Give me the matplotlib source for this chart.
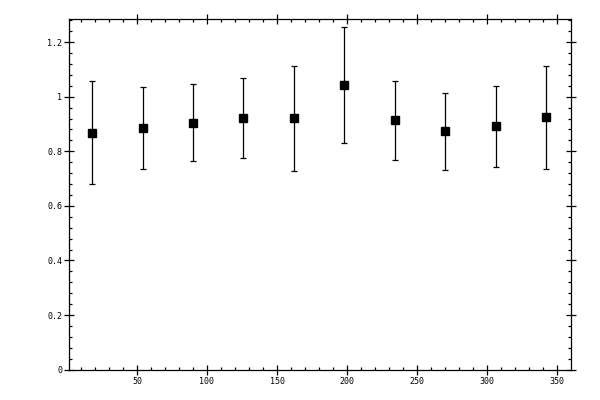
import matplotlib
matplotlib.use("Agg")
import matplotlib.pyplot as plt
from matplotlib.ticker import MultipleLocator

# данни от графиката
angle = [18, 54, 90, 126, 162, 198, 234, 270, 306, 342]
mean_val = [0.867, 0.885, 0.903, 0.922, 0.922, 1.043, 0.914, 0.874, 0.892, 0.925]
err_low = [0.186, 0.150, 0.139, 0.147, 0.195, 0.213, 0.146, 0.143, 0.150, 0.190]
err_high = [0.191, 0.150, 0.143, 0.146, 0.192, 0.212, 0.142, 0.138, 0.149, 0.189]

fig = plt.figure(figsize=(6, 4), dpi=100)
ax = fig.add_axes([0.1155, 0.0758, 0.8355, 0.8762])

ax.errorbar(angle, mean_val, yerr=[err_low, err_high], fmt='s', color='black',
            markersize=5.2, elinewidth=0.9, capsize=2.2, capthick=0.9)

ax.set_xlim(1.7, 359.6)
ax.set_ylim(0, 1.284)

ax.xaxis.set_major_locator(MultipleLocator(50))
ax.xaxis.set_minor_locator(MultipleLocator(10))
ax.yaxis.set_major_locator(MultipleLocator(0.2))
ax.yaxis.set_minor_locator(MultipleLocator(0.04))
ax.set_xticks([50, 100, 150, 200, 250, 300, 350])
ax.set_yticks([0, 0.2, 0.4, 0.6, 0.8, 1.0, 1.2])
ax.set_yticklabels(['0', '0.2', '0.4', '0.6', '0.8', '1', '1.2'])

ax.tick_params(which='both', top=True, right=True,
               labelsize=6, width=0.9, pad=2)
ax.tick_params(which='major', direction='inout', length=6.5)
ax.tick_params(which='minor', direction='in', length=2.3)
for lab in ax.get_xticklabels() + ax.get_yticklabels():
    lab.set_family('DejaVu Sans Mono')

for s in ax.spines.values():
    s.set_linewidth(0.9)

fig.savefig('out.png', dpi=100)
